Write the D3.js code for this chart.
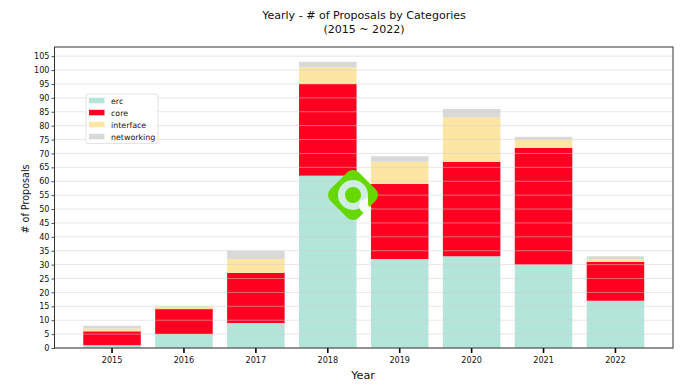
<!DOCTYPE html>
<html><head><meta charset="utf-8">
<script src="https://cdn.jsdelivr.net/npm/d3@7/dist/d3.min.js"></script>
<style>html,body{margin:0;padding:0;background:#fff}svg{display:block}text{font-family:"DejaVu Sans",sans-serif;fill:#111}</style>
</head><body><svg id="c" width="700" height="388"></svg>
<script>
const years=["2015","2016","2017","2018","2019","2020","2021","2022"];
const seriesNames=["erc","core","interface","networking"];
const erc=[1,5,9,62,32,33,30,17];
const core=[5,9,18,33,27,34,42,14];
const iface=[1,1,5,6,8,16,3,1];
const networking=[1,0,3,2,2,3,1,1];
const colors=["#b3e5d9","#ff0020","#fde6a2","#d9d9d9"];
const yTicks=d3.range(0,106,5);
const titleLines=["Yearly - # of Proposals by Categories","(2015 ~ 2022)"];
const xLabel="Year", yLabel="# of Proposals";

const L=54.5,R=673,T=47,B=348;
const svg=d3.select("#c");
const x=d3.scaleBand().domain(years).range([L,R]).paddingInner(0.2).paddingOuter(0.4);
const y=d3.scaleLinear().domain([0,108.3]).range([B,T]);
const rows=years.map((yr,i)=>({year:yr,erc:erc[i],core:core[i],interface:iface[i],networking:networking[i]}));
const stack=d3.stack().keys(seriesNames)(rows);

svg.append("g").selectAll("g").data(stack).join("g").attr("fill",(d,i)=>colors[i])
  .selectAll("rect").data(d=>d).join("rect")
  .attr("x",d=>x(d.data.year)).attr("width",x.bandwidth())
  .attr("y",d=>y(d[1])).attr("height",d=>y(d[0])-y(d[1]));

// faint grid over bars
svg.append("g").selectAll("line").data(yTicks).join("line")
  .attr("x1",L).attr("x2",R).attr("y1",d=>y(d)).attr("y2",d=>y(d))
  .attr("stroke","#cfcfcf").attr("stroke-opacity",0.5).attr("stroke-width",1);

// axes
const ax=svg.append("g").attr("transform",`translate(0,${B})`).call(d3.axisBottom(x).tickSize(5).tickPadding(4));
ax.select(".domain").remove();
ax.selectAll(".tick line").attr("stroke","#000").attr("stroke-width",1.6);
ax.selectAll("text").attr("font-size",8.1).style("font-family",'"DejaVu Sans"');
const ay=svg.append("g").attr("transform",`translate(${L},0)`).call(d3.axisLeft(y).tickValues(yTicks).tickSize(3).tickPadding(2));
ay.select(".domain").remove();
ay.selectAll(".tick line").attr("stroke","#222").attr("stroke-width",0.8);
ay.selectAll("text").attr("font-size",8.1).style("font-family",'"DejaVu Sans"');

svg.append("rect").attr("x",L).attr("y",T).attr("width",R-L).attr("height",B-T)
  .attr("fill","none").attr("stroke","#333").attr("stroke-width",1);

// titles
svg.selectAll("text.t").data(titleLines).join("text").attr("class","t")
  .attr("x",364).attr("y",(d,i)=>19+i*13.5).attr("text-anchor","middle").attr("font-size",11.05).text(d=>d);
svg.append("text").attr("x",363).attr("y",379).attr("text-anchor","middle").attr("font-size",11.2).text(xLabel);
svg.append("text").attr("transform","translate(28.5,199) rotate(-90)").attr("text-anchor","middle").attr("font-size",9.6).text(yLabel);

// legend
const lg=svg.append("g").attr("transform","translate(86,94)");
lg.append("rect").attr("width",72).attr("height",49.5).attr("rx",2).attr("fill","#fff").attr("fill-opacity",0.85).attr("stroke","#ddd").attr("stroke-width",0.8);
seriesNames.forEach((n,i)=>{
  const r=12*i;
  lg.append("rect").attr("x",3).attr("y",3.8+r).attr("width",15.5).attr("height",5.5).attr("fill",colors[i]);
  lg.append("text").attr("x",25).attr("y",9.8+r).attr("font-size",7.9).text(n);
});

// watermark logo
const g=svg.append("g").attr("transform","translate(353,195)");
g.append("rect").attr("x",-20).attr("y",-20).attr("width",40).attr("height",40).attr("rx",8)
  .attr("transform","rotate(45)").attr("fill","#66d800");
g.append("circle").attr("r",15).attr("fill","#cfeee2");
g.append("circle").attr("r",8).attr("fill","#66d800");
g.append("path").attr("d","M7,6 L15,2 L15,9 Q15.5,13 19,13 L13,19 Q7,17 6,11 Z").attr("fill","#f4fbf5");
</script></body></html>
